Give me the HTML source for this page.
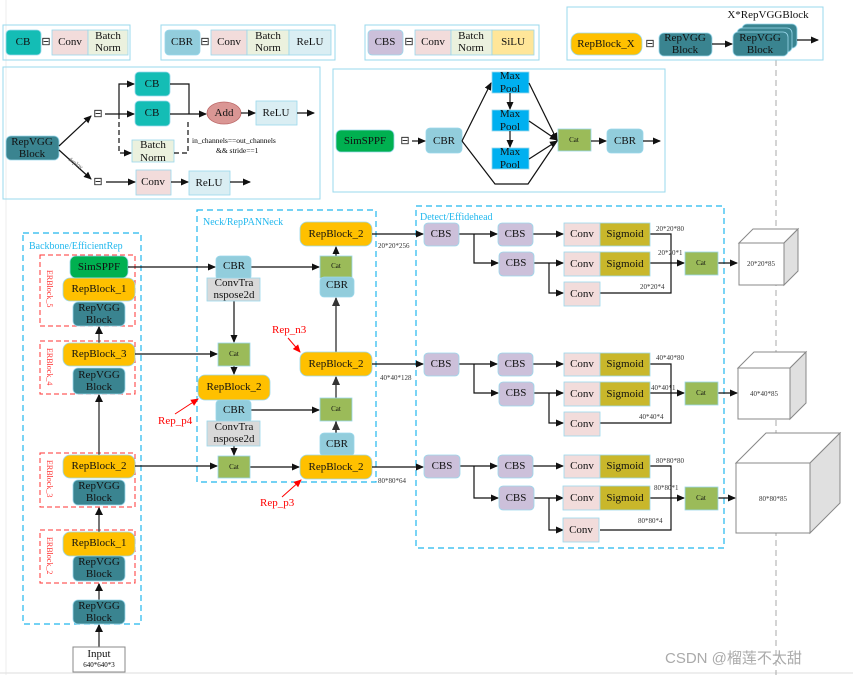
<!DOCTYPE html>
<html><head><meta charset="utf-8"><style>
html,body{margin:0;padding:0;background:#fff;}
svg{display:block;font-family:"Liberation Serif",serif;}
.t{font-size:11px;fill:#111;text-anchor:middle;dominant-baseline:central;}
.s{font-size:7px;fill:#111;text-anchor:middle;dominant-baseline:central;}
.k{stroke:#111;stroke-width:1.2;fill:none;}
.g{stroke:#555;stroke-width:1.6;fill:none;}
</style></head><body>
<svg width="853" height="675" viewBox="0 0 853 675" xmlns="http://www.w3.org/2000/svg">
<defs>
<marker id="a" markerWidth="8" markerHeight="8" refX="7" refY="4" orient="auto" markerUnits="userSpaceOnUse"><path d="M0,0.5 L8,4 L0,7.5z" fill="#111"/></marker>
<marker id="r" markerWidth="8" markerHeight="8" refX="7" refY="4" orient="auto" markerUnits="userSpaceOnUse"><path d="M0,0.5 L8,4 L0,7.5z" fill="#f00"/></marker>
</defs>
<line x1="6" y1="0" x2="6" y2="675" stroke="#eee"/>
<line x1="0" y1="673" x2="853" y2="673" stroke="#ddd"/>
<line x1="776" y1="60" x2="776" y2="675" stroke="#aaa" stroke-dasharray="6,4"/>

<!-- legend boxes -->
<g stroke="#9ad8ec" fill="none" stroke-width="1"><rect x="3" y="25" width="127" height="35"/><rect x="161" y="25" width="174" height="35"/><rect x="365" y="25" width="174" height="35"/><rect x="567" y="7" width="256" height="53"/><rect x="3" y="67" width="317" height="132"/><rect x="333" y="69" width="332" height="123"/></g>
<g stroke="#9ad8ec" stroke-width="0.8">
<rect x="6" y="30" width="35" height="25" rx="4" fill="#14bdb5"/><rect x="52" y="30" width="36" height="25" fill="#f2dcdb"/><rect x="88" y="30" width="40" height="25" fill="#ebf1de"/>
<rect x="165" y="30" width="35" height="25" rx="4" fill="#92cddc"/><rect x="211" y="30" width="36" height="25" fill="#f2dcdb"/><rect x="247" y="30" width="42" height="25" fill="#ebf1de"/><rect x="289" y="30" width="42" height="25" fill="#daeef3"/>
<rect x="368" y="30" width="35" height="25" rx="4" fill="#ccc0da"/><rect x="415" y="30" width="36" height="25" fill="#f2dcdb"/><rect x="451" y="30" width="41" height="25" fill="#ebf1de"/><rect x="492" y="30" width="42" height="25" fill="#ffe699"/>
<rect x="571" y="33" width="71" height="22" rx="8" fill="#ffc000"/><rect x="659" y="33" width="53" height="23" rx="5" fill="#3a8490"/>
<rect x="742" y="24" width="55" height="24" rx="5" fill="#3a8490"/><rect x="737" y="28" width="55" height="24" rx="5" fill="#3a8490"/><rect x="733" y="32" width="55" height="24" rx="5" fill="#3a8490"/>
</g>
<text class="t" x="23" y="42">CB</text><text class="t" x="46" y="42" fill="#888">⊟</text><text class="t" x="70" y="42">Conv</text><text class="t" x="108" y="36">Batch</text><text class="t" x="108" y="48">Norm</text>
<text class="t" x="182" y="42">CBR</text><text class="t" x="205" y="42">⊟</text><text class="t" x="229" y="42">Conv</text><text class="t" x="268" y="36">Batch</text><text class="t" x="268" y="48">Norm</text><text class="t" x="310" y="42">ReLU</text>
<text class="t" x="385" y="42">CBS</text><text class="t" x="409" y="42">⊟</text><text class="t" x="433" y="42">Conv</text><text class="t" x="471" y="36">Batch</text><text class="t" x="471" y="48">Norm</text><text class="t" x="513" y="42">SiLU</text>
<text class="t" x="606" y="44">RepBlock_X</text><text class="t" x="650" y="44">⊟</text><text class="t" x="685" y="38">RepVGG</text><text class="t" x="685" y="50">Block</text><text class="t" x="760" y="38">RepVGG</text><text class="t" x="760" y="50">Block</text>
<text class="t" x="768" y="15">X*RepVGGBlock</text>
<line class="k" x1="712" y1="44" x2="732" y2="44" marker-end="url(#a)"/><line class="k" x1="797" y1="40" x2="818" y2="40" marker-end="url(#a)"/>

<!-- RepVGG definition -->
<g stroke="#9ad8ec" stroke-width="0.8">
<rect x="6" y="136" width="53" height="24" rx="5" fill="#3a8490"/>
<rect x="135" y="72" width="35" height="24" rx="4" fill="#14bdb5"/><rect x="135" y="101" width="35" height="25" rx="4" fill="#14bdb5"/>
<rect x="132" y="140" width="42" height="22" fill="#ebf1de"/>
<ellipse cx="224" cy="113" rx="17" ry="11" fill="#da9694" stroke="#b66"/>
<rect x="256" y="101" width="41" height="24" fill="#daeef3"/>
<rect x="136" y="170" width="35" height="25" fill="#f2dcdb"/><rect x="189" y="171" width="41" height="24" fill="#daeef3"/>
</g>
<text class="t" x="32" y="142">RepVGG</text><text class="t" x="32" y="154">Block</text>
<text class="t" x="152" y="84">CB</text><text class="t" x="152" y="113">CB</text><text class="t" x="153" y="145">Batch</text><text class="t" x="153" y="158">Norm</text>
<text class="t" x="224" y="113">Add</text><text class="t" x="276" y="113">ReLU</text><text class="t" x="153" y="182">Conv</text><text class="t" x="209" y="183">ReLU</text>
<text class="t" x="98" y="114" fill="#888">⊟</text><text class="t" x="98" y="182" fill="#888">⊟</text>
<line class="k" x1="59" y1="146" x2="91" y2="116" marker-end="url(#a)"/><line class="k" x1="59" y1="150" x2="91" y2="179" marker-end="url(#a)"/>
<text x="68" y="160" font-size="6" fill="#666" transform="rotate(35 68 160)">deploy</text>
<path class="k" d="M105,114 H134" marker-end="url(#a)"/>
<path class="k" d="M119,114 V84 H134" marker-end="url(#a)"/>
<path class="k" d="M119,114 V153 H131" stroke-dasharray="5,3" marker-end="url(#a)"/>
<path class="k" d="M170,84 H189 V114"/><path class="k" d="M174,153 H188 V120" stroke-dasharray="5,3"/>
<path class="k" d="M170,114 H206" marker-end="url(#a)"/><path class="k" d="M241,113 H255" marker-end="url(#a)"/><path class="k" d="M297,113 H314" marker-end="url(#a)"/>
<path class="k" d="M106,182 H135" marker-end="url(#a)"/><path class="k" d="M171,182 H188" marker-end="url(#a)"/><path class="k" d="M230,182 H250" marker-end="url(#a)"/>
<text x="192" y="143" font-size="7.5">in_channels==out_channels</text><text x="216" y="153" font-size="7.5">&amp;&amp; stride==1</text>

<!-- SimSPPF definition -->
<g stroke="#9ad8ec" stroke-width="0.8">
<rect x="336" y="130" width="58" height="22" rx="5" fill="#00b050"/>
<rect x="426" y="128" width="36" height="25" rx="4" fill="#92cddc"/>
<rect x="492" y="72" width="37" height="21" fill="#00b0f0"/><rect x="492" y="110" width="37" height="21" fill="#00b0f0"/><rect x="492" y="148" width="37" height="21" fill="#00b0f0"/>
<rect x="558" y="129" width="33" height="22" fill="#9bbb59"/><rect x="607" y="129" width="36" height="24" rx="4" fill="#92cddc"/>
</g>
<text class="t" x="365" y="141">SimSPPF</text><text class="t" x="405" y="141" fill="#888">⊟</text><text class="t" x="444" y="141">CBR</text>
<text class="t" x="510" y="76">Max</text><text class="t" x="510" y="89">Pool</text><text class="t" x="510" y="114">Max</text><text class="t" x="510" y="127">Pool</text><text class="t" x="510" y="152">Max</text><text class="t" x="510" y="165">Pool</text>
<text class="s" x="574" y="140">Cat</text><text class="t" x="625" y="141">CBR</text>
<path class="k" d="M412,141 H425" marker-end="url(#a)"/>
<path class="k" d="M462,141 L491,83" marker-end="url(#a)"/><path class="k" d="M462,141 L495,184 H528 L557,141"/>
<path class="k" d="M510,93 V109" marker-end="url(#a)"/><path class="k" d="M510,131 V147" marker-end="url(#a)"/>
<path class="k" d="M529,83 L557,140" marker-end="url(#a)"/><path class="k" d="M529,121 L557,140" marker-end="url(#a)"/><path class="k" d="M529,159 L557,141" marker-end="url(#a)"/>
<path class="k" d="M591,141 H606" marker-end="url(#a)"/><path class="k" d="M643,141 H660" marker-end="url(#a)"/>

<!-- group boxes -->
<g fill="none" stroke="#22b8ee" stroke-width="1.2" stroke-dasharray="6,4"><rect x="23" y="233" width="118" height="391"/><rect x="197" y="210" width="179" height="272"/><rect x="416" y="206" width="308" height="342"/></g>
<g fill="none" stroke="#f33" stroke-width="1" stroke-dasharray="5,3"><rect x="40" y="255" width="95" height="71"/><rect x="40" y="341" width="95" height="53"/><rect x="40" y="453" width="95" height="54"/><rect x="40" y="530" width="95" height="53"/></g>
<text x="29" y="249" font-size="10" fill="#22b8ee">Backbone/EfficientRep</text>
<text x="203" y="225" font-size="10" fill="#22b8ee">Neck/RepPANNeck</text>
<text x="420" y="220" font-size="10" fill="#22b8ee">Detect/Effidehead</text>
<g font-size="8" fill="#f33"><text transform="translate(47,270) rotate(90)">ERBlock_5</text><text transform="translate(47,348) rotate(90)">ERBlock_4</text><text transform="translate(47,460) rotate(90)">ERBlock_3</text><text transform="translate(47,537) rotate(90)">ERBlock_2</text></g>

<!-- backbone arrows -->
<g class="g"><path d="M99,647 V625"/><path d="M99,600 V584"/><path d="M99,532 V508"/><path d="M99,455 V395"/><path d="M99,343 V327"/></g>
<g fill="#111"><path d="M95,632 L99,624 L103,632z"/><path d="M95,591 L99,583 L103,591z"/><path d="M95,515 L99,507 L103,515z"/><path d="M95,402 L99,394 L103,402z"/><path d="M95,334 L99,326 L103,334z"/></g>

<g stroke="#9ad8ec" stroke-width="0.8">
<rect x="70" y="256" width="58" height="22" rx="6" fill="#00b050"/>
<rect x="63" y="278" width="72" height="23" rx="7" fill="#ffc000"/><rect x="73" y="302" width="52" height="24" rx="5" fill="#3a8490"/>
<rect x="63" y="343" width="72" height="23" rx="7" fill="#ffc000"/><rect x="73" y="368" width="52" height="26" rx="5" fill="#3a8490"/>
<rect x="63" y="455" width="72" height="23" rx="7" fill="#ffc000"/><rect x="73" y="480" width="52" height="25" rx="5" fill="#3a8490"/>
<rect x="63" y="532" width="72" height="24" rx="7" fill="#ffc000"/><rect x="73" y="556" width="52" height="25" rx="5" fill="#3a8490"/>
<rect x="73" y="600" width="52" height="24" rx="5" fill="#3a8490"/>
</g>
<rect x="73" y="647" width="52" height="25" fill="#fff" stroke="#888"/>
<text class="t" x="99" y="267">SimSPPF</text><text class="t" x="99" y="289">RepBlock_1</text><text class="t" x="99" y="308">RepVGG</text><text class="t" x="99" y="320">Block</text>
<text class="t" x="99" y="354">RepBlock_3</text><text class="t" x="99" y="375">RepVGG</text><text class="t" x="99" y="387">Block</text>
<text class="t" x="99" y="466">RepBlock_2</text><text class="t" x="99" y="486">RepVGG</text><text class="t" x="99" y="498">Block</text>
<text class="t" x="99" y="543">RepBlock_1</text><text class="t" x="99" y="562">RepVGG</text><text class="t" x="99" y="574">Block</text>
<text class="t" x="99" y="606">RepVGG</text><text class="t" x="99" y="618">Block</text>
<text class="t" x="99" y="654">Input</text><text x="99" y="667" font-size="7" text-anchor="middle">640*640*3</text>

<!-- neck -->
<g class="k">
<path d="M128,267 H215" marker-end="url(#a)"/><path d="M251,267 H319" marker-end="url(#a)"/>
<path d="M135,354 H217" marker-end="url(#a)"/><path d="M135,466 H217" marker-end="url(#a)"/>
<path d="M234,301 V342" marker-end="url(#a)"/><path d="M234,366 V374" marker-end="url(#a)"/><path d="M234,446 V455" marker-end="url(#a)"/>
<path d="M251,410 H319" marker-end="url(#a)"/><path d="M250,467 H299" marker-end="url(#a)"/>
<path d="M336,256 V247" marker-end="url(#a)"/>
</g>
<g class="g"><path d="M336,352 V298"/><path d="M336,433 V377"/><path d="M336,455 V422"/></g>
<g fill="#333"><path d="M332,306 L336,297 L340,306z"/><path d="M332,385 L336,376 L340,385z"/><path d="M332,430 L336,421 L340,430z"/></g>
<g stroke="#9ad8ec" stroke-width="0.8">
<rect x="216" y="256" width="35" height="24" rx="4" fill="#92cddc"/><rect x="207" y="278" width="53" height="23" fill="#d9d9d9"/>
<rect x="218" y="343" width="32" height="23" fill="#9bbb59"/><rect x="198" y="375" width="72" height="25" rx="7" fill="#ffc000"/>
<rect x="216" y="400" width="35" height="23" rx="4" fill="#92cddc"/><rect x="207" y="421" width="53" height="25" fill="#d9d9d9"/>
<rect x="218" y="456" width="32" height="22" fill="#9bbb59"/>
<rect x="300" y="222" width="72" height="24" rx="7" fill="#ffc000"/><rect x="320" y="256" width="32" height="22" fill="#9bbb59"/><rect x="320" y="277" width="34" height="20" rx="4" fill="#92cddc"/>
<rect x="300" y="352" width="72" height="24" rx="7" fill="#ffc000"/><rect x="320" y="398" width="32" height="23" fill="#9bbb59"/><rect x="320" y="433" width="34" height="23" rx="4" fill="#92cddc"/>
<rect x="300" y="455" width="72" height="24" rx="7" fill="#ffc000"/>
</g>
<text class="t" x="234" y="266">CBR</text><text class="t" x="234" y="283">ConvTra</text><text class="t" x="234" y="295">nspose2d</text>
<text class="s" x="234" y="354">Cat</text><text class="t" x="234" y="387">RepBlock_2</text><text class="t" x="234" y="410">CBR</text>
<text class="t" x="234" y="427">ConvTra</text><text class="t" x="234" y="439">nspose2d</text><text class="s" x="234" y="467">Cat</text>
<text class="t" x="336" y="234">RepBlock_2</text><text class="s" x="336" y="266">Cat</text><text class="t" x="337" y="285">CBR</text>
<text class="t" x="336" y="364">RepBlock_2</text><text class="s" x="336" y="409">Cat</text><text class="t" x="337" y="444">CBR</text>
<text class="t" x="336" y="467">RepBlock_2</text>
<g font-size="11" fill="#f00"><text x="272" y="333">Rep_n3</text><text x="158" y="424">Rep_p4</text><text x="260" y="506">Rep_p3</text></g>
<g stroke="#f00" stroke-width="1"><line x1="288" y1="338" x2="300" y2="352" marker-end="url(#r)"/><line x1="175" y1="414" x2="198" y2="399" marker-end="url(#r)"/><line x1="282" y1="497" x2="301" y2="480" marker-end="url(#r)"/></g>
<g font-size="7" fill="#333"><text x="378" y="248">20*20*256</text><text x="380" y="380">40*40*128</text><text x="378" y="483">80*80*64</text></g>
<g class="k"><path d="M372,234 H423" marker-end="url(#a)"/><path d="M372,364 H423" marker-end="url(#a)"/><path d="M372,467 H423" marker-end="url(#a)"/></g>

<!-- detect rows -->
<g id="row1">
<g class="k">
<path d="M459,234 H497" marker-end="url(#a)"/><path d="M474,234 V263 H498" marker-end="url(#a)"/>
<path d="M533,234 H563" marker-end="url(#a)"/><path d="M534,263 H563" marker-end="url(#a)"/><path d="M549,263 V293 H563" marker-end="url(#a)"/>
<path d="M650,234 H671 V263"/><path d="M650,263 H684" marker-end="url(#a)"/><path d="M600,293 H671 V263"/>
<path d="M718,263 H737" marker-end="url(#a)"/>
</g>
<g stroke="#9ad8ec" stroke-width="0.8">
<rect x="424" y="223" width="35" height="23" rx="4" fill="#ccc0da"/><rect x="498" y="223" width="35" height="23" rx="4" fill="#ccc0da"/><rect x="499" y="252" width="35" height="24" rx="4" fill="#ccc0da"/>
<rect x="564" y="223" width="36" height="23" fill="#f2dcdb"/><rect x="600" y="223" width="50" height="23" fill="#c9b72b"/>
<rect x="564" y="252" width="36" height="24" fill="#f2dcdb"/><rect x="600" y="252" width="50" height="24" fill="#c9b72b"/>
<rect x="564" y="282" width="36" height="24" fill="#f2dcdb"/><rect x="685" y="252" width="33" height="23" fill="#9bbb59"/>
</g>
<text class="t" x="441" y="234">CBS</text><text class="t" x="515" y="234">CBS</text><text class="t" x="516" y="263">CBS</text>
<text class="t" x="582" y="234">Conv</text><text class="t" x="625" y="234">Sigmoid</text><text class="t" x="582" y="264">Conv</text><text class="t" x="625" y="264">Sigmoid</text><text class="t" x="582" y="294">Conv</text><text class="s" x="701" y="263">Cat</text>
</g>
<g font-size="7" fill="#333">
<text x="656" y="231">20*20*80</text><text x="658" y="255">20*20*1</text><text x="640" y="289">20*20*4</text>
<text x="656" y="360">40*40*80</text><text x="651" y="390">40*40*1</text><text x="639" y="419">40*40*4</text>
<text x="656" y="463">80*80*80</text><text x="654" y="490">80*80*1</text><text x="638" y="523">80*80*4</text>
</g>
<use href="#row1" transform="translate(0,130)"/>
<g transform="translate(0,232)">
<g class="k">
<path d="M459,234 H497" marker-end="url(#a)"/><path d="M474,234 V266 H498" marker-end="url(#a)"/>
<path d="M533,234 H563" marker-end="url(#a)"/><path d="M534,266 H563" marker-end="url(#a)"/><path d="M549,266 V298 H563" marker-end="url(#a)"/>
<path d="M650,234 H671 V266"/><path d="M650,266 H684" marker-end="url(#a)"/><path d="M600,298 H671 V266"/>
<path d="M718,266 H735" marker-end="url(#a)"/>
</g>
<g stroke="#9ad8ec" stroke-width="0.8">
<rect x="424" y="223" width="36" height="23" rx="4" fill="#ccc0da"/><rect x="498" y="223" width="35" height="23" rx="4" fill="#ccc0da"/><rect x="499" y="254" width="35" height="24" rx="4" fill="#ccc0da"/>
<rect x="564" y="223" width="36" height="23" fill="#f2dcdb"/><rect x="600" y="223" width="50" height="23" fill="#c9b72b"/>
<rect x="563" y="254" width="37" height="24" fill="#f2dcdb"/><rect x="600" y="254" width="50" height="24" fill="#c9b72b"/>
<rect x="563" y="286" width="36" height="24" fill="#f2dcdb"/><rect x="685" y="255" width="33" height="23" fill="#9bbb59"/>
</g>
<text class="t" x="442" y="234">CBS</text><text class="t" x="515" y="234">CBS</text><text class="t" x="516" y="266">CBS</text>
<text class="t" x="582" y="234">Conv</text><text class="t" x="625" y="234">Sigmoid</text><text class="t" x="582" y="266">Conv</text><text class="t" x="625" y="266">Sigmoid</text><text class="t" x="581" y="298">Conv</text><text class="s" x="701" y="266">Cat</text>
</g>

<!-- cubes -->
<g stroke="#888" stroke-width="1">
<polygon points="739,243 753,229 798,229 784,243" fill="#fff"/><polygon points="784,243 798,229 798,271 784,285" fill="#e0e0e0"/><rect x="739" y="243" width="45" height="42" fill="#fff"/>
<polygon points="738,368 754,352 806,352 790,368" fill="#fff"/><polygon points="790,368 806,352 806,403 790,419" fill="#e0e0e0"/><rect x="738" y="368" width="52" height="51" fill="#fff"/>
<polygon points="736,463 766,433 840,433 810,463" fill="#fff"/><polygon points="810,463 840,433 840,503 810,533" fill="#e0e0e0"/><rect x="736" y="463" width="74" height="70" fill="#fff"/>
</g>
<g font-size="7" fill="#333" text-anchor="middle"><text x="761" y="266">20*20*85</text><text x="764" y="396">40*40*85</text><text x="773" y="501">80*80*85</text></g>

<text x="665" y="663" font-family="'Liberation Sans','Noto Sans CJK SC',sans-serif" font-size="15" fill="#aaa">CSDN @榴莲不太甜</text>
</svg>
</body></html>
